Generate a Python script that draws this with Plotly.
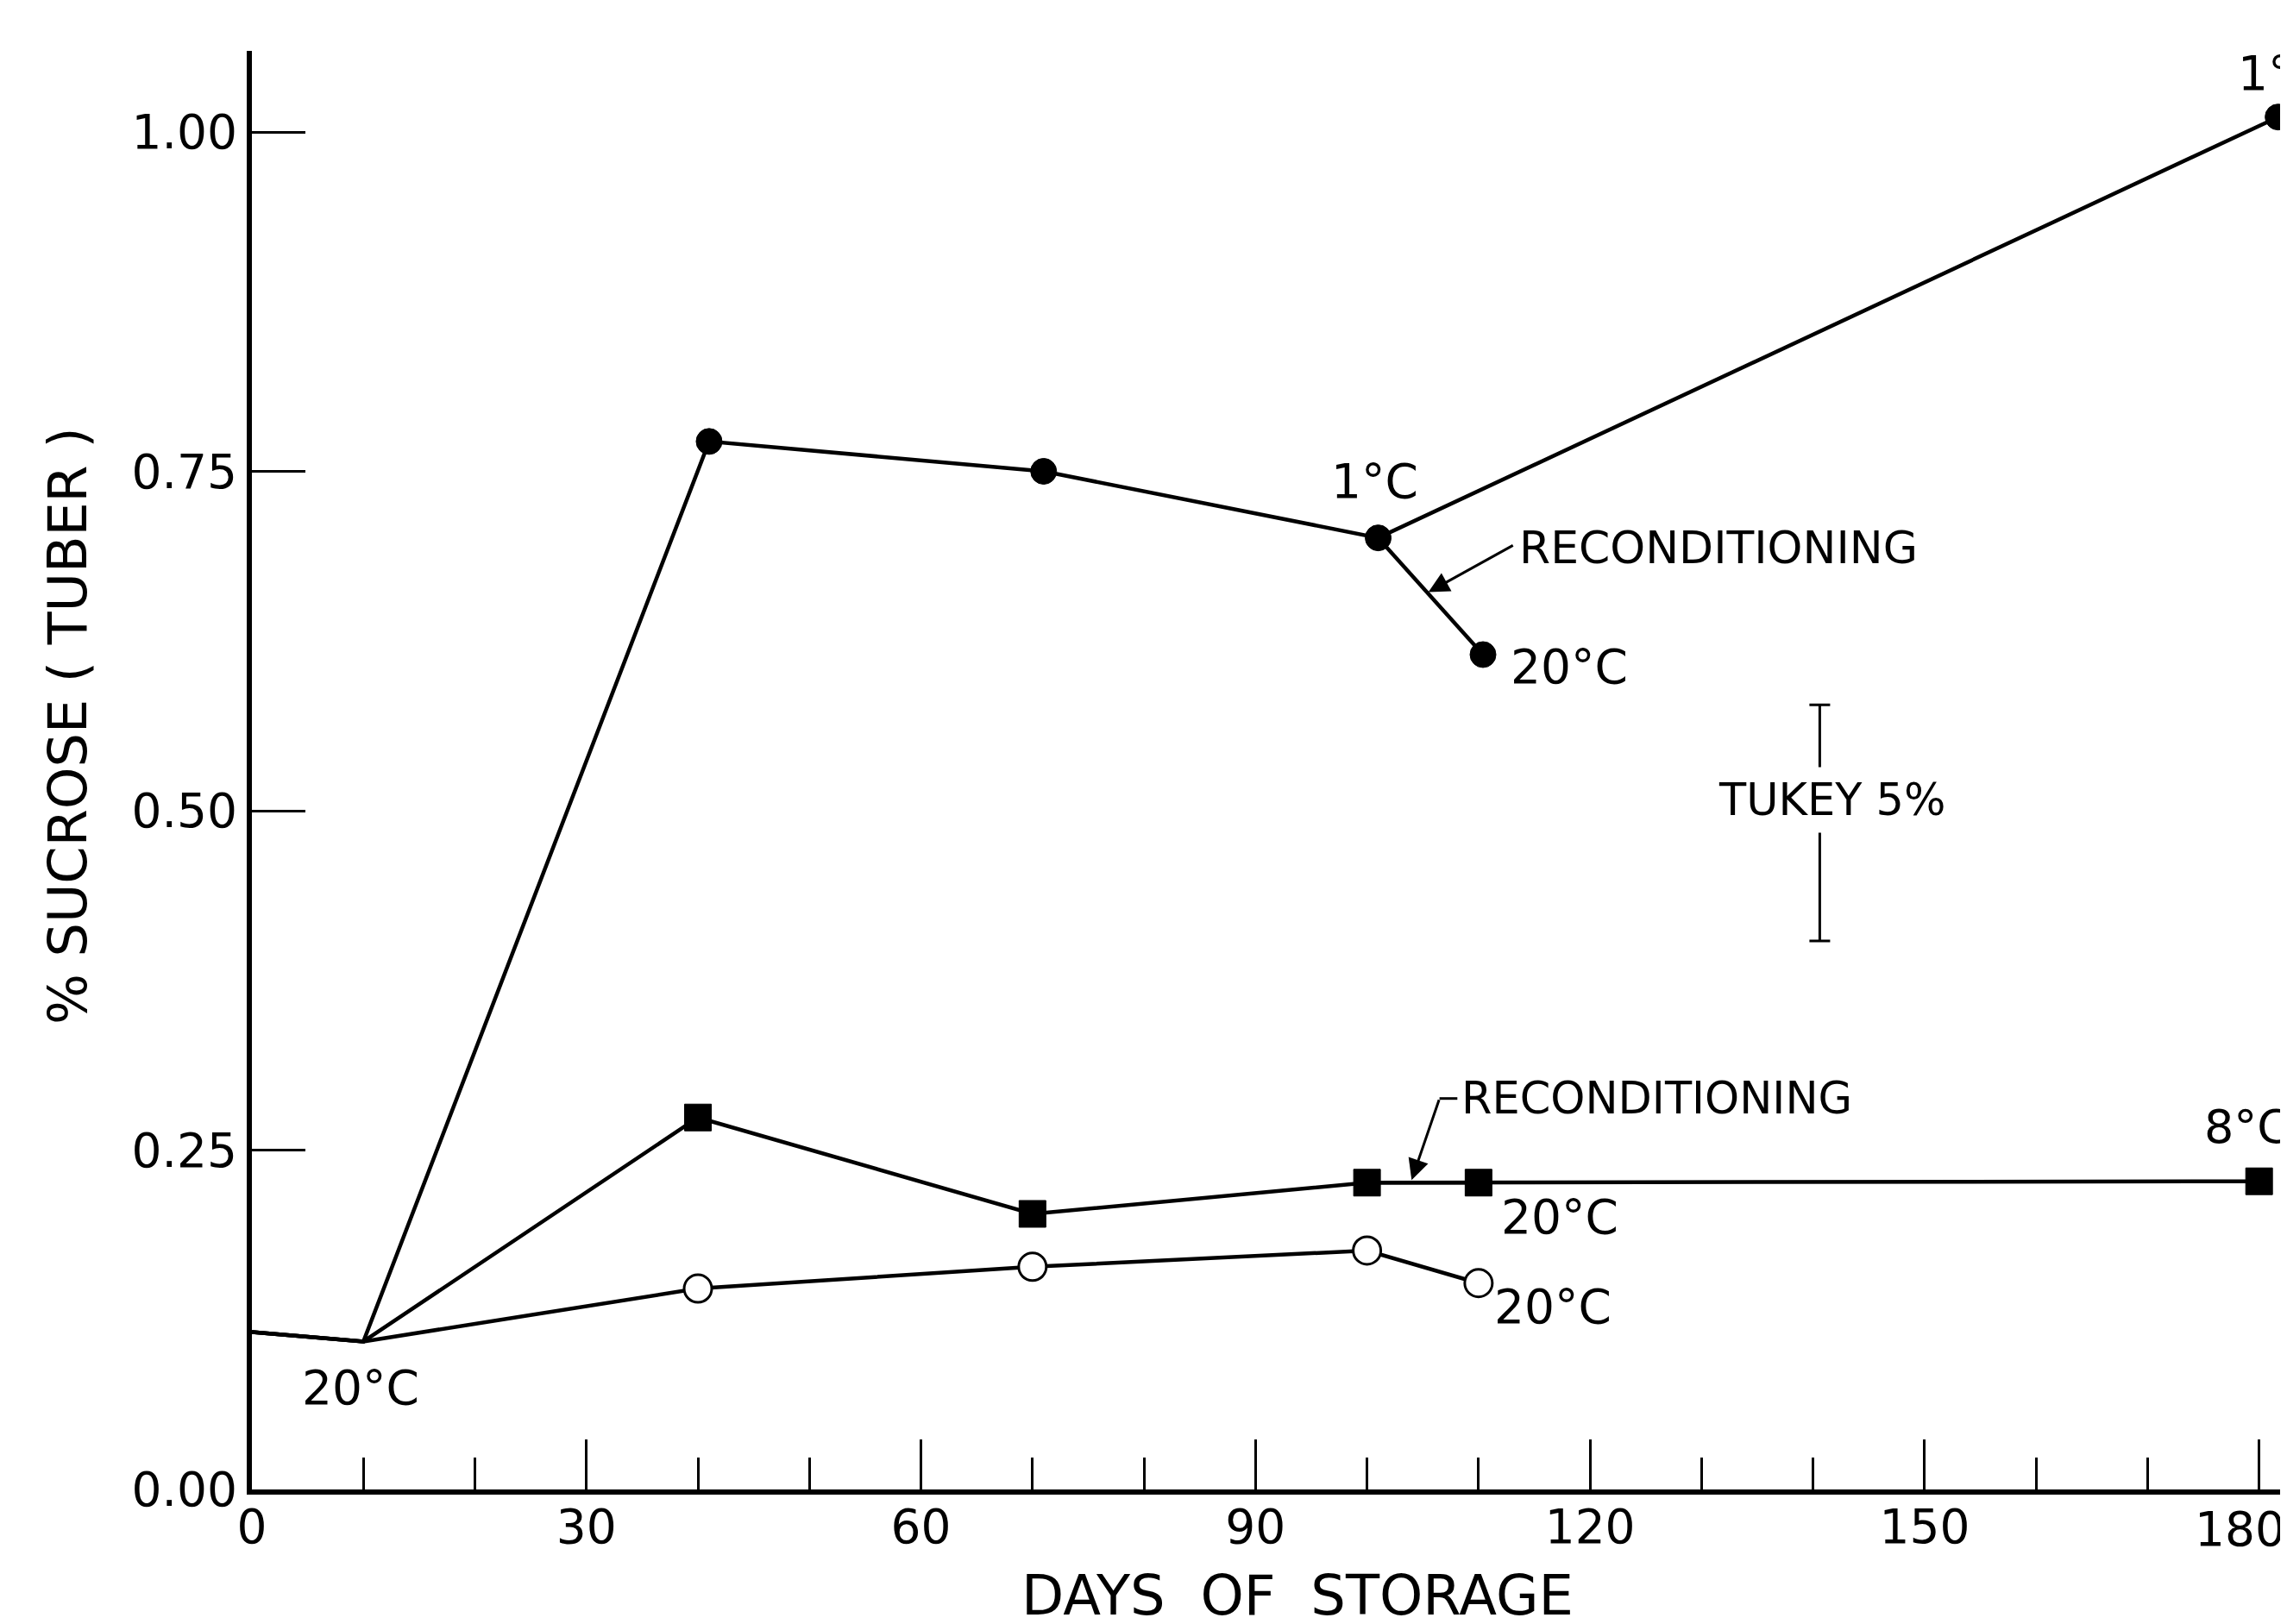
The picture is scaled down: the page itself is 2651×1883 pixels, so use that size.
import plotly.graph_objects as go

# ---- data ----
# Control: held at 20 C (open circles)
days_20 = [0, 10, 40, 70, 100, 110]
suc_20 = [0.116, 0.109, 0.148, 0.164, 0.176, 0.152]

# 8 C storage (filled squares)
days_8 = [0, 10, 40, 70, 100, 180]
suc_8 = [0.116, 0.109, 0.274, 0.203, 0.226, 0.227]
# 8 C -> 20 C reconditioning branch
days_8r = [100, 110]
suc_8r = [0.226, 0.226]

# 1 C storage (filled circles)
days_1 = [0, 10, 41, 71, 101, 181.7]
suc_1 = [0.116, 0.109, 0.772, 0.750, 0.701, 1.011]
# 1 C -> 20 C reconditioning branch
days_1r = [101, 110.4]
suc_1r = [0.701, 0.615]

# Tukey 5% bar
tukey_day = 140.6
tukey_lo, tukey_hi = 0.404, 0.578

x_ticks = [0, 30, 60, 90, 120, 150, 180]
x_ticktext = ["0", "30", "60", "90", "120", "150", ""]  # "180" drawn as annotation (kept inside page)
x_minor = [10, 20, 40, 50, 70, 80, 100, 110, 130, 140, 160, 170]
y_ticks = [0.00, 0.25, 0.50, 0.75, 1.00]
y_ticktext = ["0.00", "0.25", "0.50", "0.75", "1.00"]

FONT = "DejaVu Sans"
LW = 4.5

W, H = 2651, 1883
L, R, T, B = 284, 2, 51, 164
pw, ph = W - L - R, H - T - B
PX_PER_DAY = 12.926
PX_PER_UNIT = 1574.0

fig = go.Figure()

def line(x, y):
    fig.add_trace(go.Scatter(
        x=x, y=y, mode="lines", line=dict(color="black", width=LW),
        showlegend=False, cliponaxis=False, hoverinfo="skip"))

filled_circle = dict(symbol="circle", size=30, color="black",
                     line=dict(color="black", width=1))
filled_square = dict(symbol="square", size=31, color="black",
                     line=dict(color="black", width=1))
open_circle = dict(symbol="circle", size=32, color="white",
                   line=dict(color="black", width=3))

# lines
line(days_1, suc_1)
line(days_1r, suc_1r)
line(days_8, suc_8)
line(days_8r, suc_8r)
line(days_20, suc_20)
# markers (shared starting points carry no marker)
fig.add_trace(go.Scatter(x=days_1[2:] + days_1r[1:], y=suc_1[2:] + suc_1r[1:],
                         mode="markers", marker=filled_circle, showlegend=False,
                         cliponaxis=False, hoverinfo="skip"))
fig.add_trace(go.Scatter(x=days_8[2:] + days_8r[1:], y=suc_8[2:] + suc_8r[1:],
                         mode="markers", marker=filled_square, showlegend=False,
                         cliponaxis=False, hoverinfo="skip"))
fig.add_trace(go.Scatter(x=days_20[2:], y=suc_20[2:],
                         mode="markers", marker=open_circle, showlegend=False,
                         cliponaxis=False, hoverinfo="skip"))

# Tukey bar as an error bar
mid = (tukey_lo + tukey_hi) / 2
fig.add_trace(go.Scatter(
    x=[tukey_day], y=[mid], mode="markers",
    marker=dict(size=1, color="rgba(0,0,0,0)"),
    error_y=dict(type="data", array=[tukey_hi - mid], visible=True,
                 color="black", thickness=3, width=12),
    showlegend=False, hoverinfo="skip"))

ann = []
def label(text, x, y, size=55, xanchor="center"):
    ann.append(dict(x=x, y=y, xref="x", yref="y", text=text, showarrow=False,
                    xanchor=xanchor, yanchor="middle",
                    font=dict(family=FONT, size=size, color="black")))

label("20°C", 9.75, 0.075)
label("1°C", 100.65, 0.743)
label("20°C", 118.1, 0.606)
label("20°C", 117.3, 0.201)
label("20°C", 116.7, 0.135)
label("8°C", 178.9, 0.267, size=54)
label("1°C", 177.9, 1.043, xanchor="left")
label("RECONDITIONING", 113.5, 0.694, size=52, xanchor="left")
label("RECONDITIONING", 108.3, 0.288, size=51, xanchor="left")

# Tukey text with white background to break the bar
ann.append(dict(x=141.7, y=0.508, xref="x", yref="y", text="TUKEY 5%",
                showarrow=False, bgcolor="white", borderpad=8,
                font=dict(family=FONT, size=51, color="black")))

# arrows
def arrow(x_tail, y_tail, x_head, y_head):
    ann.append(dict(x=x_head, y=y_head, ax=x_tail, ay=y_tail,
                    xref="x", yref="y", axref="x", ayref="y", text="",
                    showarrow=True, arrowhead=2, arrowsize=1.6, arrowwidth=3,
                    arrowcolor="black", standoff=0, startstandoff=0))

arrow(113.2, 0.696, 105.5, 0.661)
arrow(106.5, 0.288, 104.0, 0.228)

# last x tick label, nudged left so it stays on the page like the reference
ann.append(dict(x=178.3, y=(H - B - 1765) / ph, xref="x", yref="paper",
                xanchor="center", yanchor="middle", text="180", showarrow=False,
                font=dict(family=FONT, size=55, color="black")))

# y-axis title (pixel position converted to paper coords)
ann.append(dict(x=(70 - L) / pw, y=(H - B - 834) / ph, xref="paper", yref="paper",
                xanchor="center", yanchor="middle",
                text="% SUCROSE ( TUBER )", showarrow=False, textangle=-90,
                font=dict(family=FONT, size=62, color="black")))

# x-axis title
ann.append(dict(x=(1496 - L) / pw, y=(H - B - 1842) / ph, xref="paper", yref="paper",
                xanchor="center", yanchor="middle",
                text="DAYS  OF  STORAGE", showarrow=False,
                font=dict(family=FONT, size=64, color="black")))

fig.update_layout(
    width=W, height=H,
    margin=dict(l=L, r=R, t=T, b=B, pad=0),
    plot_bgcolor="white", paper_bgcolor="white",
    annotations=ann,
    shapes=[dict(type="line", xref="x", yref="y", x0=106.5, y0=0.288, x1=108.1, y1=0.288,
                 line=dict(color="black", width=3))],
    xaxis=dict(range=[0, pw / PX_PER_DAY], tickvals=x_ticks, ticktext=x_ticktext,
               ticks="inside", ticklen=58, tickwidth=3, tickcolor="black",
               minor=dict(tickvals=x_minor, ticks="inside", ticklen=37, tickwidth=3,
                          tickcolor="black"),
               showline=True, linewidth=6, linecolor="black", showgrid=False, zeroline=False,
               ticklabelstandoff=-10, ticklabeloverflow="allow",
               tickfont=dict(family=FONT, size=55, color="black")),
    yaxis=dict(range=[0, ph / PX_PER_UNIT], tickvals=y_ticks, ticktext=y_ticktext,
               ticks="inside", ticklen=62, tickwidth=3, tickcolor="black",
               showline=True, linewidth=6, linecolor="black", showgrid=False, zeroline=False,
               ticklabelstandoff=0, ticklabeloverflow="allow",
               tickfont=dict(family=FONT, size=55, color="black")),
)

fig.write_html("out.html")
